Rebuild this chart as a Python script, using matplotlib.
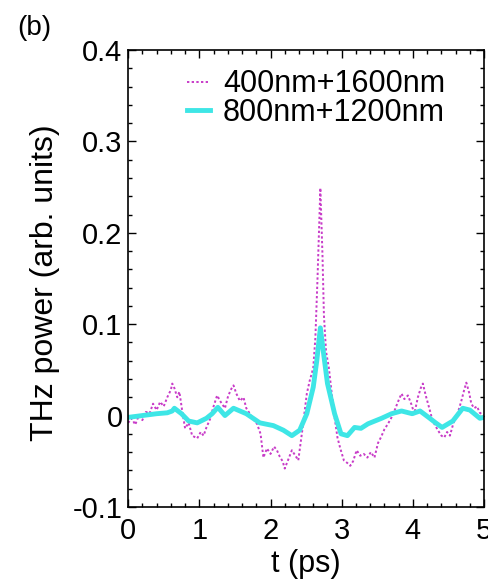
import matplotlib.pyplot as plt
from matplotlib.ticker import MultipleLocator

plt.rcParams['font.family'] = ['Liberation Sans', 'DejaVu Sans']

# 400nm+1600nm (magenta, dotted)
t_mag = [0.0, 0.05, 0.1, 0.15, 0.2, 0.25, 0.3, 0.35, 0.4, 0.45, 0.5, 0.55, 0.6, 0.62, 0.65,
         0.69, 0.72, 0.76, 0.8, 0.85, 0.9, 0.97, 1.02, 1.06, 1.1, 1.15, 1.2, 1.25, 1.3, 1.36,
         1.4, 1.44, 1.48, 1.52, 1.57, 1.62, 1.66, 1.71, 1.76, 1.81, 1.86, 1.9, 1.95, 2.0,
         2.05, 2.09, 2.13, 2.17, 2.2, 2.25, 2.3, 2.35, 2.39, 2.44, 2.48, 2.51, 2.55, 2.6,
         2.63, 2.66, 2.7, 2.73, 2.75, 2.78, 2.82, 2.86, 2.9, 2.94, 2.98, 3.03, 3.08, 3.12,
         3.16, 3.21, 3.26, 3.31, 3.36, 3.41, 3.46, 3.51, 3.55, 3.6, 3.65, 3.7, 3.74, 3.79,
         3.84, 3.88, 3.93, 3.98, 4.02, 4.07, 4.11, 4.14, 4.18, 4.23, 4.27, 4.3, 4.35, 4.4,
         4.44, 4.48, 4.52, 4.57, 4.62, 4.68, 4.72, 4.75, 4.79, 4.82, 4.86, 4.9, 4.94, 5.0]
v_mag = [-0.008, -0.003, -0.010, 0.000, -0.005, 0.004, 0.002, 0.013, 0.006, 0.015, 0.010, 0.020,
         0.028, 0.035, 0.030, 0.020, 0.026, 0.005, -0.014, -0.008, -0.022, -0.025, -0.018,
         -0.022, -0.013, -0.004, 0.010, 0.022, 0.015, 0.008, 0.020, 0.028, 0.033, 0.024, 0.016,
         0.020, 0.008, 0.002, -0.004, -0.009, -0.020, -0.046, -0.036, -0.042, -0.034, -0.038,
         -0.045, -0.050, -0.058, -0.048, -0.038, -0.044, -0.049, -0.020, 0.005, 0.024, 0.038,
         0.052, 0.085, 0.150, 0.249, 0.175, 0.110, 0.070, 0.052, 0.024, -0.002, -0.024,
         -0.036, -0.049, -0.052, -0.055, -0.050, -0.038, -0.044, -0.042, -0.046, -0.040,
         -0.046, -0.030, -0.024, -0.015, -0.009, -0.002, 0.005, 0.015, 0.024, 0.018, 0.022,
         0.012, 0.002, 0.020, 0.030, 0.035, 0.022, 0.008, -0.004, -0.009, -0.016, -0.022,
         -0.024, -0.018, -0.022, -0.008, 0.000, 0.016, 0.028, 0.036, 0.025, 0.013, 0.008,
         0.010, 0.003, 0.000]

# 800nm+1200nm (cyan, thick)
t_cyan = [0.0, 0.2, 0.4, 0.55, 0.62, 0.65, 0.75, 0.85, 0.97, 1.1, 1.18, 1.26, 1.36, 1.48,
          1.66, 1.85, 2.04, 2.18, 2.3, 2.41, 2.51, 2.6, 2.65, 2.7, 2.75, 2.8, 2.9, 2.99,
          3.08, 3.18, 3.27, 3.37, 3.56, 3.7, 3.84, 3.99, 4.1, 4.22, 4.32, 4.41, 4.56, 4.7,
          4.8, 4.94, 5.0]
v_cyan = [-0.002, 0.000, 0.002, 0.003, 0.005, 0.008, 0.002, -0.006, -0.008, -0.003, 0.002,
          0.009, 0.000, 0.008, 0.002, -0.008, -0.011, -0.016, -0.022, -0.016, 0.002, 0.031,
          0.060, 0.096, 0.065, 0.035, 0.002, -0.020, -0.022, -0.013, -0.014, -0.009,
          -0.003, 0.002, 0.005, 0.002, 0.005, -0.002, -0.008, -0.013, -0.006, 0.008,
          0.006, -0.003, -0.002]

xticks = [0, 1, 2, 3, 4, 5]
yticks = [-0.1, 0, 0.1, 0.2, 0.3, 0.4]
ytick_labels = ['-0.1', '0', '0.1', '0.2', '0.3', '0.4']

fig = plt.figure(figsize=(4.89, 5.82), dpi=100)
ax = fig.add_axes([0.262, 0.129, 0.728, 0.785])

ax.plot(t_mag, v_mag, color='#c83cc8', lw=1.4, ls=(0, (1.2, 1.2)), label='400nm+1600nm')
ax.plot(t_cyan, v_cyan, color='#3ee6e6', lw=3.5, label='800nm+1200nm')

ax.set_xlim(0, 5)
ax.set_ylim(-0.1, 0.4)
ax.xaxis.set_minor_locator(MultipleLocator(0.2))
ax.yaxis.set_minor_locator(MultipleLocator(0.02))
ax.set_xticks(xticks)
ax.set_xticklabels([str(x) for x in xticks])
ax.set_yticks(yticks)
ax.set_yticklabels(ytick_labels)
ax.tick_params(which='both', direction='in', top=True, right=True, labelsize=21, width=1)
ax.tick_params(which='major', length=6)
ax.tick_params(axis='x', which='major', pad=7)
ax.tick_params(axis='y', which='major', pad=4)
ax.tick_params(which='minor', length=3)
for s in ax.spines.values():
    s.set_linewidth(1.2)

ax.set_xlabel('t (ps)', fontsize=22, labelpad=3)
ax.set_ylabel('THz power (arb. units)', fontsize=23)
ax.yaxis.set_label_coords(-0.19, 0.49)

ax.legend(loc='upper left', bbox_to_anchor=(0.166, 0.958), frameon=False, fontsize=22,
          handlelength=0.75, handletextpad=0.42, labelspacing=-0.04,
          borderpad=0, borderaxespad=0)

fig.text(0.035, 0.975, '(b)', fontsize=20, va='top')

fig.savefig('out.png', dpi=100)
